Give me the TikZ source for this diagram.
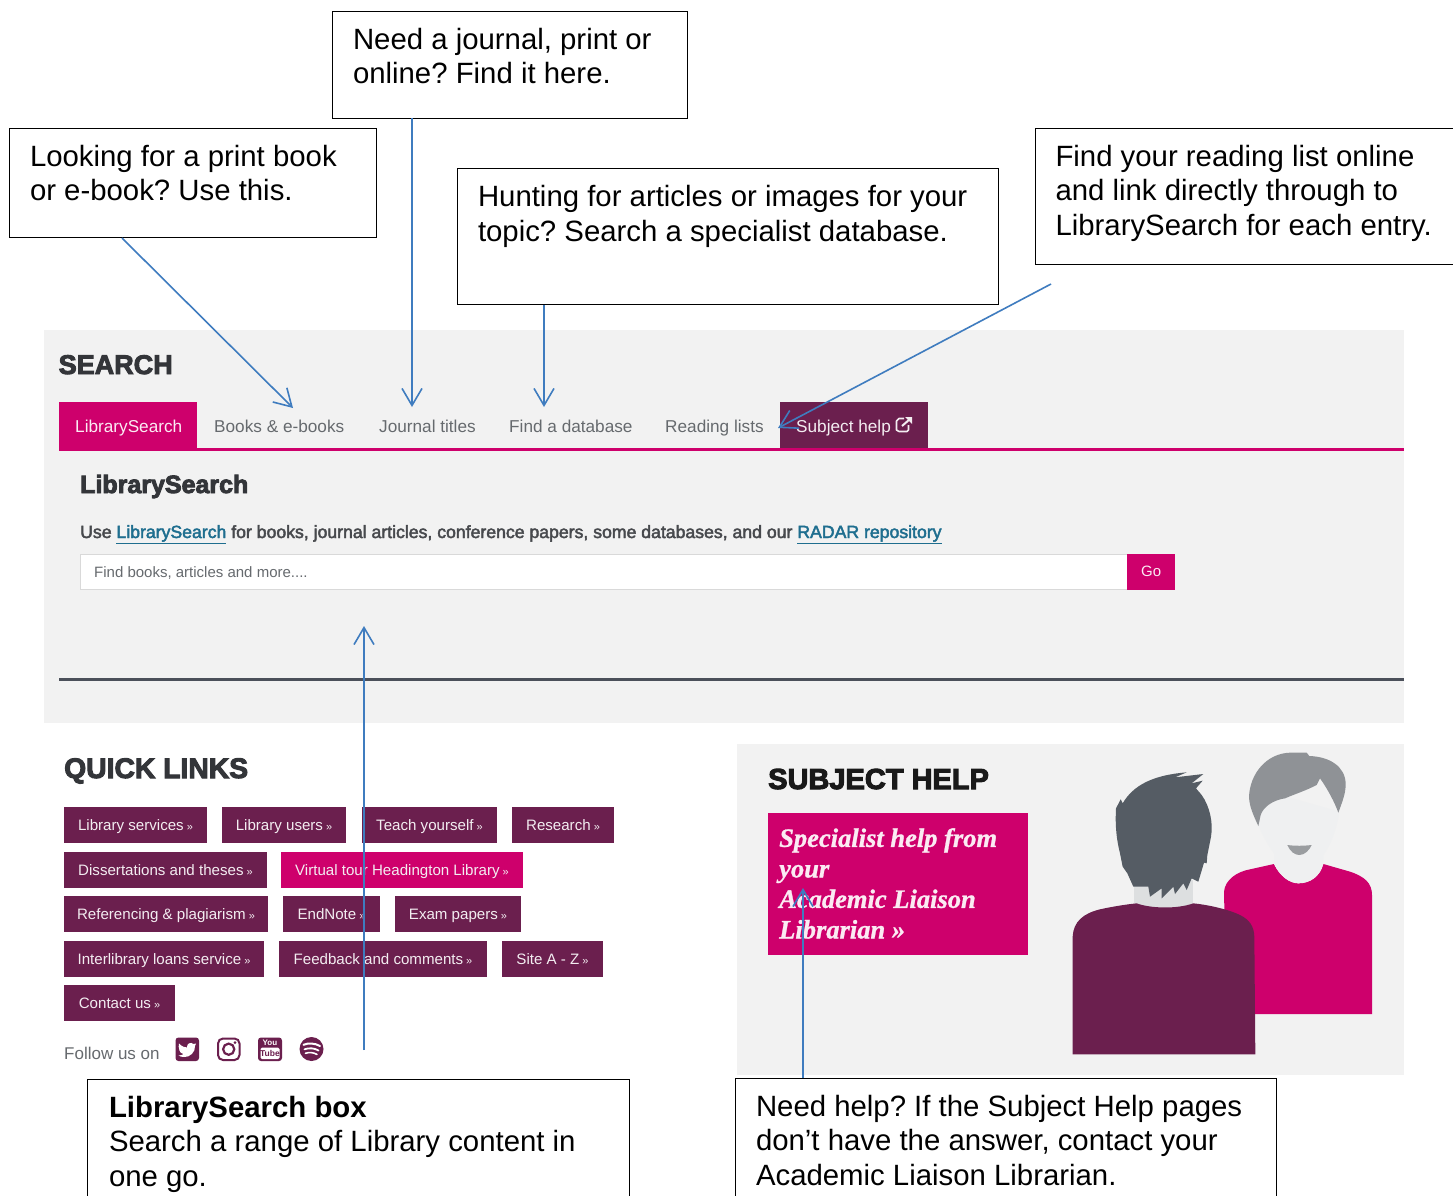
\documentclass[tikz,border=0pt]{standalone}
\usepackage{fontspec}
\setmainfont{Liberation Sans}
\newfontfamily\heavyf[FakeBold=3.5]{Liberation Sans Bold}
\newfontfamily\midf[FakeBold=2.5]{Liberation Sans}
\newfontfamily\pinkf[FakeBold=1]{Liberation Serif Bold Italic}
\usetikzlibrary{arrows.meta}
\definecolor{panel}{HTML}{F2F2F2}
\definecolor{mag}{HTML}{CE006C}
\definecolor{maroon}{HTML}{6B1F4E}
\definecolor{arrowblue}{HTML}{3F7CBF}
\definecolor{tabgrey}{HTML}{666A6E}
\definecolor{inkdark}{HTML}{333539}
\definecolor{linkblue}{HTML}{1F6E8F}
\definecolor{rulegrey}{HTML}{4B505A}
\definecolor{hairdark}{HTML}{555C64}
\definecolor{hairlight}{HTML}{8F9296}
\definecolor{skin}{HTML}{EFF0F1}
\definecolor{neck}{HTML}{DDDFE0}
\newcommand{\mg}{{\fontsize{11}{11}\selectfont\ »}}
\newcommand{\cbox}[5]{\node[cboxs,minimum width={#4-#2},minimum height={#5-#3}] (#1) at (#2,#3) {};}
\newcommand{\qbtn}[6][maroon]{\node[qbtns,fill=#1,minimum width={#4-#3}] (#2) at (#3,#5) {#6\mg};}
\tikzset{
 cboxs/.style={draw=black,line width=1pt,fill=white,anchor=north west,inner sep=0pt,outer sep=0pt},
 ctext/.style={anchor=north west,inner sep=0pt,outer sep=0pt,align=left,font=\frenchspacing\fontsize{29.35}{34.6}\selectfont,execute at begin node={\rule{0pt}{25pt}}},
 hd/.style={anchor=base west,inner sep=0pt,text=inkdark},
 tabt/.style={anchor=base west,inner sep=0pt,font=\fontsize{17.2}{20}\selectfont},
 qbtns/.style={anchor=north west,minimum height=36pt,inner sep=0pt,outer sep=0pt,text height=11pt,text depth=0pt,text=white!92!maroon,font=\fontsize{15.1}{17}\selectfont},
 callarrow/.style={draw=arrowblue,line width=1.6pt,-{Straight Barb[length=17pt,width=20pt,line width=1.6pt]}},
 panelbox/.style={fill=panel,draw=none,anchor=north west,inner sep=0pt,outer sep=0pt},
}
\begin{document}
\begin{tikzpicture}[x=1pt,y=-1pt]
\useasboundingbox (0,0) rectangle (1453,1195);
\fill[white] (0,0) rectangle (1453,1195);
% search panel
\node[panelbox,minimum width=1360pt,minimum height=393pt] (searchpanel) at (44,330) {};
\node[hd,font=\heavyf\fontsize{27}{27}\selectfont] (searchh) at (58.5,374) {SEARCH};
\fill[mag] (59,448) rectangle (1404,451);
\node[anchor=north west,fill=mag,minimum width=138pt,minimum height=48pt,inner sep=0pt] (tab1) at (59,402) {};
\node[tabt,text=white!92!mag] (tab1t) at (75,432) {LibrarySearch};
\node[tabt,text=tabgrey] (tab2) at (214,432) {Books \& e-books};
\node[tabt,text=tabgrey] (tab3) at (379,432) {Journal titles};
\node[tabt,text=tabgrey] (tab4) at (509,432) {Find a database};
\node[tabt,text=tabgrey] (tab5) at (665,432) {Reading lists};
\node[anchor=north west,fill=maroon,minimum width=148pt,minimum height=46pt,inner sep=0pt] (tab6) at (780,402) {};
\node[tabt,text=white!92!maroon] (tab6t) at (796,432) {Subject help};
% external link icon
\draw[white!92!maroon,line width=1.6pt,line join=round] (904,418.5) -- (899,418.5) -- (896.5,421) -- (896.5,430) -- (899,431.5) -- (907,431.5) -- (908.5,430) -- (908.5,425);
\draw[white!92!maroon,line width=2pt] (902,426) -- (910,419);
\fill[white!92!maroon] (905,417) -- (912,417) -- (912,424) -- cycle;
\node[hd,font=\heavyf\fontsize{25}{25}\selectfont] (libh) at (80,493) {LibrarySearch};
\node[anchor=base west,inner sep=0pt,text=inkdark!90,font=\midf\fontsize{17.65}{20}\selectfont] (usetext) at (80,538) {Use {\color{linkblue}\underline{LibrarySearch}} for books, journal articles, conference papers, some databases, and our {\color{linkblue}\underline{RADAR repository}}};
\node[anchor=north west,fill=white,draw=black!15,line width=1pt,minimum width=1047pt,minimum height=35pt,inner sep=0pt] (sbar) at (80,554) {};
\node[anchor=base west,inner sep=0pt,text=tabgrey,font=\fontsize{15}{17}\selectfont] (sph) at (94,577) {Find books, articles and more....};
\node[anchor=north west,fill=mag,minimum width=48pt,minimum height=36pt,inner sep=0pt,text=white!92!mag,font=\fontsize{15}{17}\selectfont] (gobtn) at (1127,553.5) {Go};
\fill[rulegrey] (59,677.5) rectangle (1404,680.5);
% quick links
\node[hd,font=\heavyf\fontsize{28.3}{28}\selectfont] (quickh) at (64,778) {QUICK LINKS};
\qbtn{b1}{64}{207}{807}{Library services}
\qbtn{b2}{222}{346}{807}{Library users}
\qbtn{b3}{362}{497}{807}{Teach yourself}
\qbtn{b4}{512}{614}{807}{Research}
\qbtn{b5}{64}{267}{851.5}{Dissertations and theses}
\qbtn[mag]{b6}{281}{523}{851.5}{Virtual tour Headington Library}
\qbtn{b7}{64}{268}{896}{Referencing \& plagiarism}
\qbtn{b8}{283}{380}{896}{EndNote}
\qbtn{b9}{395}{521}{896}{Exam papers}
\qbtn{b10}{64}{264}{940.5}{Interlibrary loans service}
\qbtn{b11}{279}{487}{940.5}{Feedback and comments}
\qbtn{b12}{502}{603}{940.5}{Site A - Z}
\qbtn{b13}{64}{175}{985}{Contact us}
\node[anchor=base west,inner sep=0pt,text=tabgrey,font=\fontsize{17}{18}\selectfont] (follow) at (64,1059) {Follow us on};
% social icons
\fill[maroon,rounded corners=3pt] (175.5,1037.5) rectangle (199,1061);
\fill[white] (179,1043.5) .. controls (182,1046.5) and (184.5,1047.5) .. (187,1047.5) .. controls (186.5,1043.5) and (191,1041.5) .. (193.5,1044) -- (196,1043.5) -- (195,1046) .. controls (195.5,1052) and (190,1057.5) .. (184,1057) .. controls (182,1057) and (180,1056.5) .. (178.5,1055.5) .. controls (180.5,1055.5) and (182,1055) .. (183.5,1054) .. controls (181,1053.5) and (180,1052) .. (179.5,1050.5) .. controls (179,1047.5) and (178,1045.5) .. (179,1043.5) -- cycle;
\draw[maroon,line width=2pt,rounded corners=5pt] (218,1038.5) rectangle (239.5,1060);
\draw[maroon,line width=2.2pt] (228.7,1049.2) circle (5.6pt);
\fill[maroon] (235,1042.5) circle (1.5pt);
\fill[maroon,rounded corners=3pt] (258,1037.5) rectangle (282,1061);
\node[inner sep=0pt,text=white,font=\fontsize{8}{8}\selectfont\bfseries] (ytyou) at (270,1042.5) {You};
\fill[white,rounded corners=1.5pt] (260.5,1047.5) rectangle (279.5,1059);
\node[inner sep=0pt,text=maroon,font=\fontsize{8.5}{8}\selectfont\bfseries] (yttube) at (270,1053.3) {Tube};
\fill[maroon] (311.5,1049) circle (12pt);
\draw[white,line width=2pt,line cap=round] (303.5,1044.8) .. controls (308,1042.8) and (315,1043) .. (320,1046);
\draw[white,line width=1.8pt,line cap=round] (304.5,1049.3) .. controls (309,1047.6) and (314.5,1048) .. (318.5,1050.5);
\draw[white,line width=1.6pt,line cap=round] (305.5,1053.3) .. controls (309,1052) and (313.5,1052.4) .. (317,1054.4);
% subject help panel
\node[panelbox,minimum width=667pt,minimum height=331pt] (subpanel) at (737,744) {};
\node[anchor=base west,inner sep=0pt,text=black!90,font=\heavyf\fontsize{29}{29}\selectfont] (subh) at (768,789) {SUBJECT HELP};
\node[anchor=north west,fill=mag,minimum width=260pt,minimum height=142pt,inner sep=0pt] (pinkbox) at (768,813) {};
\node[anchor=north west,inner sep=0pt,align=left,text=white!92!mag,font=\pinkf\fontsize{26.5}{30.5}\selectfont,execute at begin node={\rule{0pt}{20pt}}] (pinktext) at (779,828) {Specialist help from\\your\\Academic Liaison\\Librarian »};
% people
\begin{scope}[shift={(1050,740)},scale=1/3]
\fill[mag] (525,600) -- (522,455) .. controls (525,420) and (560,395) .. (600,388) -- (672,372) .. controls (690,410) and (720,430) .. (745,430) .. controls (780,430) and (810,410) .. (820,372) -- (900,395) .. controls (945,410) and (966,430) .. (966,465) -- (966,822) -- (610,822) -- (610,600) -- cycle;
\fill[skin] (625,255) -- (640,150) -- (868,215) .. controls (860,270) and (840,320) .. (820,345) -- (820,372) .. controls (810,410) and (780,430) .. (745,430) .. controls (720,430) and (690,410) .. (672,372) -- (672,340) .. controls (650,310) and (635,280) .. (625,255) -- cycle;
\fill[hairlight] (625,258) .. controls (610,225) and (598,200) .. (597,170) .. controls (600,100) and (650,40) .. (720,38) -- (770,38) -- (778,48) .. controls (840,50) and (885,80) .. (887,130) .. controls (888,160) and (875,190) .. (865,218) .. controls (855,190) and (835,150) .. (810,115) -- (800,135) .. controls (760,155) and (740,160) .. (705,175) .. controls (670,180) and (640,200) .. (632,225) -- cycle;
\fill[hairlight!90] (712,315) .. controls (720,335) and (735,345) .. (748,345) .. controls (765,345) and (778,330) .. (785,315) .. controls (760,318) and (735,318) .. (712,315) -- cycle;
\fill[neck] (252,420) rectangle (430,505);
\fill[hairdark] (198,205) -- (212,178) -- (218,190) .. controls (250,135) and (310,105) .. (410,97) -- (375,112) -- (460,102) -- (425,130) -- (458,122) -- (438,145) -- (455,165) .. controls (480,200) and (490,250) .. (483,290) -- (472,345) -- (470,370) -- (462,368) -- (445,425) -- (425,415) -- (410,450) -- (400,430) -- (375,462) -- (370,440) -- (335,475) -- (335,445) -- (300,470) -- (295,440) -- (250,440) -- (232,400) -- (218,380) -- (210,340) .. controls (200,300) and (195,260) .. (198,205) -- cycle;
\fill[maroon] (68,943) -- (68,590) .. controls (70,545) and (100,520) .. (150,508) .. controls (200,497) and (240,492) .. (260,490) .. controls (300,505) and (380,508) .. (430,490) .. controls (480,495) and (540,510) .. (570,525) .. controls (600,540) and (612,560) .. (613,590) -- (616,943) -- cycle;
\end{scope}
% callouts
\cbox{cjournal}{332.5}{11.5}{687.5}{118}
\node[ctext] (cjournalt) at (353,28) {Need a journal, print or\\online? Find it here.};
\cbox{cbook}{9.5}{128.5}{376.5}{237.5}
\node[ctext] (cbookt) at (30,145) {Looking for a print book\\or e-book? Use this.};
\cbox{cdb}{457.5}{168}{998.5}{304.5}
\node[ctext] (cdbt) at (478,185.5) {Hunting for articles or images for your\\topic? Search a specialist database.};
\cbox{cread}{1035}{128.5}{1470}{264.5}
\node[ctext] (creadt) at (1055.5,145) {Find your reading list online\\and link directly through to\\LibrarySearch for each entry.};
\cbox{cls}{87.5}{1079.5}{629.5}{1210}
\node[ctext] (clst) at (109,1096) {\textbf{LibrarySearch box}\\Search a range of Library content in\\one go.};
\cbox{chelp}{735.5}{1078}{1276.5}{1210}
\node[ctext] (chelpt) at (756,1095) {Need help? If the Subject Help pages\\don’t have the answer, contact your\\Academic Liaison Librarian.};
% arrow ends
\coordinate (ebook) at (293,408);
\coordinate (ejournal) at (412,407);
\coordinate (edb) at (544,407);
\coordinate (eread) at (778,428);
\coordinate (eread0) at (1051,284);
\coordinate (els) at (364,626);
\coordinate (els0) at (364,1050);
\coordinate (ehelp) at (803,888);
\coordinate (sbook) at (122,238);
\coordinate (sjournal) at (412,118);
\coordinate (sdb) at (544,305);
\coordinate (shelp) at (803,1078);
\draw[callarrow] (sbook) -- (ebook);
\draw[callarrow] (sjournal) -- (ejournal);
\draw[callarrow] (sdb) -- (edb);
\draw[callarrow] (eread0) -- (eread);
\draw[callarrow] (els0) -- (els);
\draw[callarrow] (shelp) -- (ehelp);
\end{tikzpicture}
\end{document}
